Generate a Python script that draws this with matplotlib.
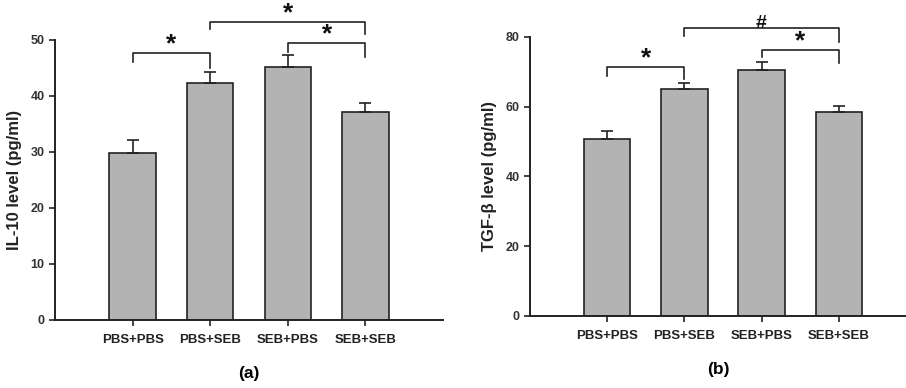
import matplotlib.pyplot as plt

plt.rcParams['font.family'] = ['Liberation Sans', 'DejaVu Sans']
plt.rcParams['font.weight'] = 'bold'

groups = ['PBS+PBS', 'PBS+SEB', 'SEB+PBS', 'SEB+SEB']

il10_mean = [29.9, 42.4, 45.2, 37.2]
il10_err = [2.2, 1.9, 2.1, 1.5]

tgf_mean = [50.7, 65.1, 70.4, 58.3]
tgf_err = [2.3, 1.6, 2.4, 1.9]

# (left bar, right bar, bar height, left drop, right drop, mark)
il10_sig = [(0, 1, 47.6, 46.0, 45.0, '*'),
            (1, 3, 53.2, 51.9, 51.0, '*'),
            (2, 3, 49.4, 47.9, 47.0, '*')]
tgf_sig = [(0, 1, 71.3, 68.8, 67.8, '*'),
           (1, 3, 82.4, 80.2, 78.6, '#'),
           (2, 3, 76.2, 74.3, 72.4, '*')]

LINE = '#222222'
BAR = '#b3b3b3'


def draw_panel(ax, means, errs, sig, ymax, ystep, ylabel, xlim, tag):
    x = list(range(len(groups)))
    ax.bar(x, means, width=0.6, color=BAR, edgecolor=LINE, linewidth=1.2)
    ax.errorbar(x, means, yerr=[[0] * len(errs), errs], fmt='none',
                ecolor=LINE, elinewidth=1.2, capsize=4, capthick=1.2)
    ax.set_xlim(*xlim)
    ax.set_ylim(0, ymax)
    ax.set_yticks(range(0, ymax + 1, ystep))
    ax.set_xticks(x)
    ax.set_xticklabels(groups, fontsize=9.5, fontweight='bold', color='#222222')
    ax.tick_params(axis='y', labelsize=9, colors=LINE, labelcolor='#333333',
                   length=4, width=1.2, direction='out')
    ax.tick_params(axis='x', length=4, width=1.2, colors=LINE, pad=6)
    for lab in ax.get_yticklabels():
        lab.set_fontweight('bold')
    for s in ['top', 'right']:
        ax.spines[s].set_visible(False)
    for s in ['left', 'bottom']:
        ax.spines[s].set_linewidth(1.4)
        ax.spines[s].set_color(LINE)
    ax.set_ylabel(ylabel, fontsize=12, fontweight='bold', color='#222222',
                  labelpad=6)

    for i, j, h, dl, dr, mark in sig:
        ax.plot([i, i, j, j], [dl, h, h, dr], color=LINE, lw=1.2, clip_on=False)
        ax.text((i + j) / 2, h - ymax * 0.012, mark, ha='center', va='bottom',
                fontsize=19 if mark == '*' else 14, fontweight='bold',
                color='#111111')

    ax.text(0.5 * (xlim[0] + xlim[1]), -ymax * 0.19, tag,
            ha='center', va='center', fontsize=12.5, fontweight='bold')


fig = plt.figure(figsize=(9.06, 3.88), dpi=100)
W, H = 906, 388

ax1 = fig.add_axes([55 / W, 1 - 320 / H, (443 - 55) / W, (320 - 40) / H])
draw_panel(ax1, il10_mean, il10_err, il10_sig, 50, 10,
           'IL-10 level (pg/ml)', (-1, 4), '(a)')

ax2 = fig.add_axes([530 / W, 1 - 316 / H, (906 - 530) / W, (316 - 36.7) / H])
draw_panel(ax2, tgf_mean, tgf_err, tgf_sig, 80, 20,
           'TGF-β level (pg/ml)', (-1, 3.87), '(b)')

fig.savefig('out.png', dpi=100)
